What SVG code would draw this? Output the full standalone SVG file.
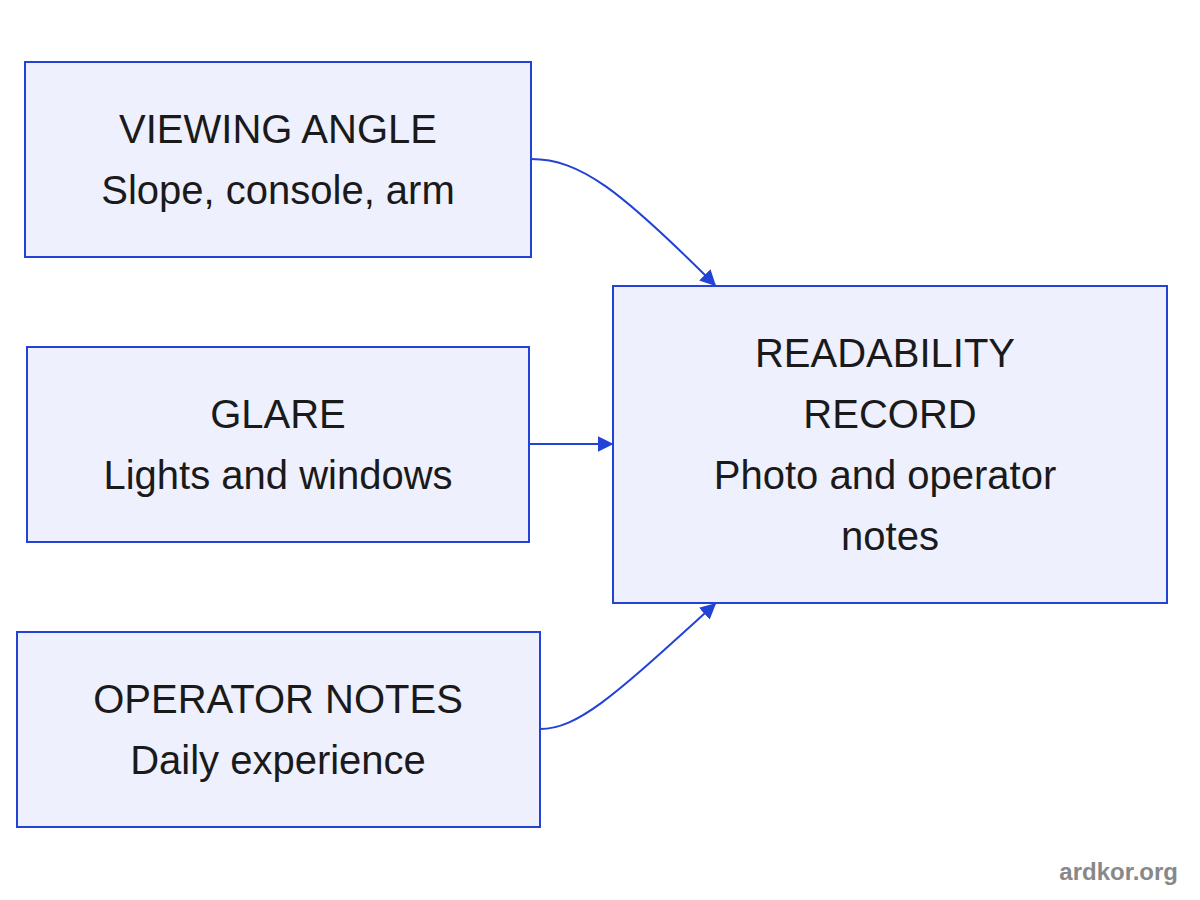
<svg xmlns="http://www.w3.org/2000/svg" width="1200" height="900" viewBox="0 0 1200 900">
<defs>
<style>
.n{fill:#eef0fe;stroke:#2342d6;stroke-width:2}
.t{font-family:"Liberation Sans",Arial,sans-serif;font-size:40px;fill:#1a1a1a;text-anchor:middle}
.c{fill:none;stroke:#2342d6;stroke-width:2}
</style>
<marker id="a" viewBox="0 0 10 10" refX="9" refY="5" markerWidth="8" markerHeight="8" orient="auto"><path d="M0,0L10,5L0,10z" fill="#2342d6"/></marker>
</defs>
<rect width="1200" height="900" fill="#fff"/>
<g id="n1"><rect class="n" x="25" y="62" width="506" height="195"/><text class="t" x="278" y="143">VIEWING ANGLE</text><text class="t" x="278" y="204">Slope, console, arm</text></g>
<g id="n2"><rect class="n" x="27" y="347" width="502" height="195"/><text class="t" x="278" y="428">GLARE</text><text class="t" x="278" y="489">Lights and windows</text></g>
<g id="n3"><rect class="n" x="17" y="632" width="523" height="195"/><text class="t" x="278" y="713">OPERATOR NOTES</text><text class="t" x="278" y="774">Daily experience</text></g>
<g id="n4"><rect class="n" x="613" y="286" width="554" height="317"/><text class="t" x="885" y="367">READABILITY</text><text class="t" x="890" y="428">RECORD</text><text class="t" x="885" y="489">Photo and operator</text><text class="t" x="890" y="550">notes</text></g>
<g id="edges">
<path class="c" d="M531,159C580,159 620,190 715,285" marker-end="url(#a)"/>
<path class="c" d="M529,444L612,444" marker-end="url(#a)"/>
<path class="c" d="M540,729C580,729 620,690 715,604" marker-end="url(#a)"/>
</g>
<text x="1178" y="880" style="font-family:'Liberation Sans',Arial,sans-serif;font-size:24px;font-weight:bold;fill:#888;text-anchor:end">ardkor.org</text>
</svg>
